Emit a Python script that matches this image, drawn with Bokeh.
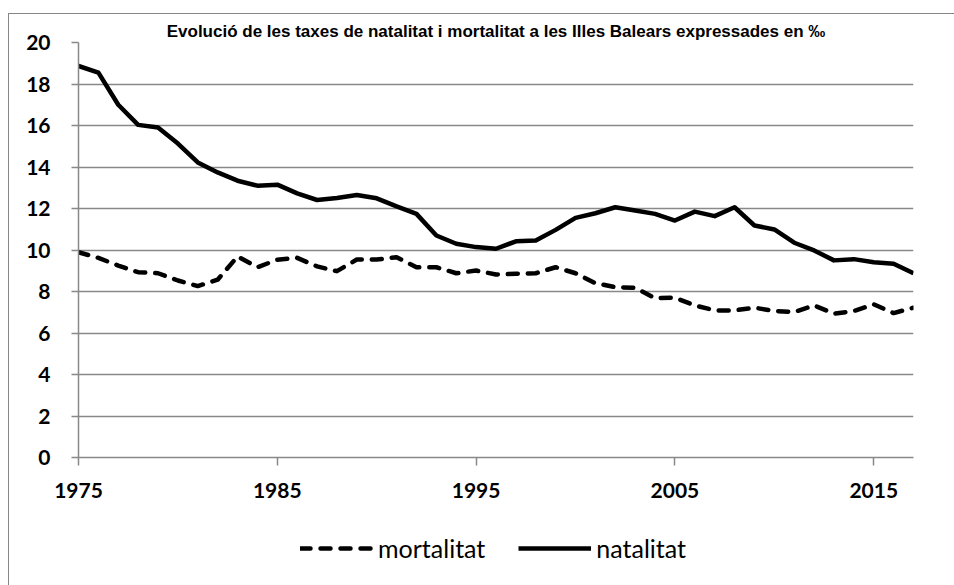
from bokeh.plotting import figure
from bokeh.layouts import column
from bokeh.models import Range1d, FixedTicker, Legend, LegendItem, InlineStyleSheet
from bokeh.embed import file_html
from bokeh.resources import INLINE

# ---- data ----
years = list(range(1975, 2018))
natalitat = [18.87, 18.55, 17.0, 16.03, 15.9, 15.13, 14.22, 13.74, 13.34, 13.1,
             13.15, 12.73, 12.41, 12.51, 12.65, 12.49, 12.1, 11.74, 10.7, 10.3,
             10.14, 10.06, 10.42, 10.46, 10.97, 11.55, 11.77, 12.06, 11.9, 11.74,
             11.42, 11.85, 11.63, 12.06, 11.18, 10.99, 10.35, 9.98, 9.5, 9.56,
             9.41, 9.34, 8.88]
mortalitat = [9.89, 9.62, 9.25, 8.93, 8.88, 8.53, 8.26, 8.57, 9.69, 9.17,
              9.53, 9.62, 9.21, 8.98, 9.54, 9.54, 9.65, 9.17, 9.17, 8.88,
              9.01, 8.82, 8.85, 8.88, 9.17, 8.88, 8.4, 8.21, 8.18, 7.68,
              7.7, 7.33, 7.09, 7.09, 7.22, 7.06, 7.01, 7.33, 6.93, 7.06,
              7.38, 6.96, 7.22]
y_ticks = [0, 2, 4, 6, 8, 10, 12, 14, 16, 18, 20]
x_ticks = [1975, 1985, 1995, 2005, 2015]
series_names = ["mortalitat", "natalitat"]
title_text = "Evolució de les taxes de natalitat i mortalitat a les Illes Balears expressades en ‰"

GRID = "#898989"
BORDER = "#868686"
MORT_STYLE = dict(line_width=4.5, line_color="black", line_dash="10 10",
                  line_cap="round", line_join="round")
NAT_STYLE = dict(line_width=4.5, line_color="black", line_join="round")

# ---------------- main chart ----------------
p = figure(width=954, height=510, output_backend="svg", toolbar_location=None,
           x_range=Range1d(1975, 2017), y_range=Range1d(0, 20),
           min_border_left=78, min_border_right=41, min_border_top=42,
           min_border_bottom=53)
p.outline_line_color = None
p.background_fill_color = "white"
p.border_fill_color = "white"
p.stylesheets = [InlineStyleSheet(css=(
    ":host::after { content: ''; position: absolute; left: 8px; top: 13px; "
    "right: 0; bottom: 0; border-left: 1.3px solid " + BORDER + "; "
    "border-top: 1.3px solid " + BORDER + "; pointer-events: none; }"))]

p.title.text = title_text
p.title.text_font = "Liberation Sans"
p.title.text_font_style = "bold"
p.title.text_font_size = "17px"
p.title.align = "center"
p.title.standoff = 4
p.title.text_color = "black"

p.xgrid.visible = False
p.ygrid.grid_line_color = GRID
p.ygrid.grid_line_width = 1.5

for ax in (p.xaxis[0], p.yaxis[0]):
    ax.axis_line_color = GRID
    ax.axis_line_width = 1.5
    ax.major_tick_line_color = GRID
    ax.major_tick_line_width = 1.5
    ax.major_tick_in = 0
    ax.minor_tick_line_color = None
    ax.major_label_text_font = "Lato"
    ax.major_label_text_font_style = "bold"
    ax.major_label_text_font_size = "21px"
    ax.major_label_text_color = "black"

p.yaxis[0].ticker = FixedTicker(ticks=y_ticks)
p.yaxis[0].major_tick_out = 7
p.yaxis[0].major_label_standoff = 21
p.xaxis[0].ticker = FixedTicker(ticks=x_ticks)
p.xaxis[0].major_tick_out = 8
p.xaxis[0].major_label_standoff = 17

p.line(years, mortalitat, **MORT_STYLE)
p.line(years, natalitat, **NAT_STYLE)

# ---------------- legend strip ----------------
q = figure(width=954, height=75, output_backend="svg", toolbar_location=None,
           x_range=Range1d(0, 1), y_range=Range1d(0, 1),
           x_axis_location=None, y_axis_location=None, title=None,
           min_border=0, min_border_left=0, min_border_right=0,
           min_border_top=0, min_border_bottom=0)
q.outline_line_color = None
q.grid.visible = False
q.background_fill_color = "white"
q.border_fill_color = "white"
q.stylesheets = [InlineStyleSheet(css=(
    ":host::after { content: ''; position: absolute; left: 8px; top: 0; "
    "right: 0; bottom: 0; border-left: 1.3px solid " + BORDER + "; "
    "pointer-events: none; }"))]
# legend proxies: same series, drawn outside this strip's visible ranges
qm = q.line(years, mortalitat, **MORT_STYLE)
qn = q.line(years, natalitat, **NAT_STYLE)

legend = Legend(items=[LegendItem(label=series_names[0], renderers=[qm]),
                       LegendItem(label=series_names[1], renderers=[qn])],
                orientation="horizontal", location=(222, 22),
                glyph_width=73, glyph_height=28, label_height=28,
                label_standoff=5, spacing=33, padding=0, margin=0,
                border_line_color=None, background_fill_alpha=0,
                label_text_font="Lato", label_text_font_size="25px",
                label_text_color="black")
q.add_layout(legend)

layout = column(p, q, spacing=0)
open("out.html", "w").write(file_html(layout, INLINE))
